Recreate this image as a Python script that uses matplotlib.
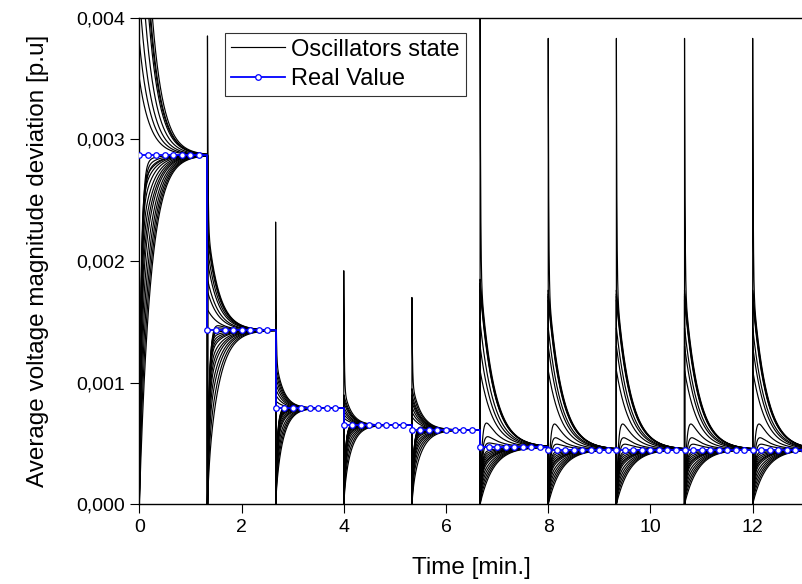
import numpy as np
import matplotlib.pyplot as plt
from matplotlib.ticker import FuncFormatter

plt.rcParams['font.family'] = ['Liberation Sans', 'DejaVu Sans']

# reference ("real value") is sampled every 1/6 min, 8 samples per step
sample_step = 1 / 6
samples_per_step = 8
t_end = 13.0
real_value = [2.87e-3, 1.43e-3, 0.79e-3, 0.65e-3, 0.61e-3,
              0.47e-3, 0.45e-3, 0.45e-3, 0.45e-3, 0.45e-3]

# oscillator states after each step
spike_peak = [12e-3, 3.85e-3, 2.32e-3, 1.92e-3, 1.70e-3,
              4.4e-3, 3.83e-3, 3.83e-3, 3.83e-3, 3.83e-3]
# level reached right after the fast transient (first entry = spiking oscillator)
upper_knee = [
    [6.5e-3, 6.0e-3, 5.8e-3, 5.5e-3, 4.8e-3, 4.2e-3, 3.8e-3, 3.5e-3],
    [2.3e-3, 2.25e-3, 2.2e-3, 2.1e-3, 2.0e-3, 1.85e-3, 1.75e-3, 1.6e-3],
    [1.2e-3, 1.15e-3, 1.1e-3, 1.05e-3, 1.0e-3, 0.95e-3, 0.9e-3, 0.85e-3],
    [0.95e-3, 0.9e-3, 0.87e-3, 0.84e-3, 0.8e-3, 0.77e-3, 0.74e-3, 0.71e-3],
    [1.0e-3, 0.95e-3, 0.9e-3, 0.87e-3, 0.84e-3, 0.8e-3, 0.76e-3, 0.72e-3],
    [1.9e-3, 1.85e-3, 1.82e-3, 1.8e-3, 1.77e-3, 1.5e-3, 1.3e-3, 1.1e-3],
    [1.8e-3, 1.76e-3, 1.73e-3, 1.71e-3, 1.68e-3, 1.45e-3, 1.3e-3, 1.1e-3],
    [1.8e-3, 1.76e-3, 1.73e-3, 1.71e-3, 1.68e-3, 1.45e-3, 1.3e-3, 1.1e-3],
    [1.8e-3, 1.76e-3, 1.73e-3, 1.71e-3, 1.68e-3, 1.45e-3, 1.3e-3, 1.1e-3],
    [1.8e-3, 1.76e-3, 1.73e-3, 1.71e-3, 1.68e-3, 1.45e-3, 1.3e-3, 1.1e-3],
]
# oscillators restarting from zero that overshoot a little
bump_knee = [
    [2.6e-3, 2.7e-3, 2.8e-3],
    [1.45e-3, 1.5e-3, 1.55e-3],
    [0.8e-3, 0.82e-3, 0.85e-3],
    [0.68e-3, 0.7e-3, 0.72e-3],
    [0.65e-3, 0.68e-3, 0.7e-3],
    [0.85e-3, 0.65e-3, 0.55e-3],
    [0.85e-3, 0.65e-3, 0.55e-3],
    [0.85e-3, 0.65e-3, 0.55e-3],
    [0.85e-3, 0.65e-3, 0.55e-3],
    [0.85e-3, 0.65e-3, 0.55e-3],
]
# oscillators restarting from zero and rising
lower_knee = [
    [0.0, 0.3e-3, 0.6e-3, 0.9e-3, 1.2e-3, 1.5e-3, 1.7e-3, 1.9e-3, 2.1e-3, 2.3e-3, 2.45e-3, 2.55e-3],
    [0.2e-3, 0.4e-3, 0.6e-3, 0.75e-3, 0.9e-3, 1.0e-3, 1.1e-3, 1.2e-3, 1.25e-3, 1.3e-3, 1.35e-3, 1.4e-3],
    [0.1e-3, 0.2e-3, 0.3e-3, 0.4e-3, 0.5e-3, 0.55e-3, 0.6e-3, 0.65e-3, 0.68e-3, 0.7e-3, 0.73e-3, 0.76e-3],
    [0.1e-3, 0.2e-3, 0.3e-3, 0.38e-3, 0.45e-3, 0.5e-3, 0.53e-3, 0.56e-3, 0.58e-3, 0.6e-3, 0.62e-3, 0.63e-3],
    [0.1e-3, 0.2e-3, 0.28e-3, 0.35e-3, 0.4e-3, 0.45e-3, 0.5e-3, 0.53e-3, 0.55e-3, 0.57e-3, 0.59e-3, 0.6e-3],
    [0.0, 0.05e-3, 0.1e-3, 0.15e-3, 0.2e-3, 0.25e-3, 0.28e-3, 0.3e-3, 0.33e-3, 0.36e-3, 0.39e-3, 0.42e-3],
    [0.0, 0.05e-3, 0.1e-3, 0.15e-3, 0.2e-3, 0.25e-3, 0.28e-3, 0.3e-3, 0.33e-3, 0.36e-3, 0.39e-3, 0.42e-3],
    [0.0, 0.05e-3, 0.1e-3, 0.15e-3, 0.2e-3, 0.25e-3, 0.28e-3, 0.3e-3, 0.33e-3, 0.36e-3, 0.39e-3, 0.42e-3],
    [0.0, 0.05e-3, 0.1e-3, 0.15e-3, 0.2e-3, 0.25e-3, 0.28e-3, 0.3e-3, 0.33e-3, 0.36e-3, 0.39e-3, 0.42e-3],
    [0.0, 0.05e-3, 0.1e-3, 0.15e-3, 0.2e-3, 0.25e-3, 0.28e-3, 0.3e-3, 0.33e-3, 0.36e-3, 0.39e-3, 0.42e-3],
]
tau_slow = [0.22, 0.22, 0.15, 0.15, 0.18, 0.26, 0.26, 0.26, 0.26, 0.26]
tau_spike = 0.01
tau_bump = 0.04
tau_rise = 0.03


def response(r, x0, knee, tf, ts, t):
    return r + (x0 - knee) * np.exp(-t / tf) + (knee - r) * np.exp(-t / ts)


n_seg = len(real_value)
t_steps = [i * samples_per_step * sample_step for i in range(n_seg)] + [t_end]

# time / state for every oscillator, concatenated over the steps
n_upper = len(upper_knee[0])
n_bump = len(bump_knee[0])
n_lower = len(lower_knee[0])
n_osc = n_upper + n_bump + n_lower
times = []
states = [[] for _ in range(n_osc)]
for s in range(n_seg):
    dur = t_steps[s + 1] - t_steps[s]
    tl = np.concatenate([[0.0], np.geomspace(1e-4, dur, 400)])
    times.append(t_steps[s] + tl)
    r = real_value[s]
    ts = tau_slow[s]
    for j in range(n_upper):
        k = upper_knee[s][j]
        x0 = spike_peak[s] if j == 0 else k
        states[j].append(response(r, x0, k, tau_spike, ts, tl))
    for j in range(n_bump):
        states[n_upper + j].append(response(r, 0.0, bump_knee[s][j], tau_bump, ts, tl))
    for j in range(n_lower):
        states[n_upper + n_bump + j].append(response(r, 0.0, lower_knee[s][j], tau_rise, ts, tl))
times = np.concatenate(times)

fig = plt.figure(figsize=(8.03, 5.84), dpi=100)
ax = fig.add_axes([0.1735, 0.1365, 0.8275, 0.8332])

for j in range(n_osc):
    ax.plot(times, np.concatenate(states[j]), color='black', lw=0.85,
            label='Oscillators state' if j == 0 else None)

# real value
t_samples = np.arange(0, int(round(t_end / sample_step)) + 1) * sample_step
rv = np.repeat(real_value, samples_per_step)[:len(t_samples)]
ax.plot(t_samples, rv, drawstyle='steps-post', color='#0000ff', lw=1.3,
        marker='o', ms=4, mfc='white', mec='#0000ff', mew=0.9,
        label='Real Value', zorder=5)

ax.set_xlim(0, 13)
ax.set_ylim(0, 0.004)
ax.set_xticks([0, 2, 4, 6, 8, 10, 12])
ax.set_yticks([0, 0.001, 0.002, 0.003, 0.004])
ax.yaxis.set_major_formatter(FuncFormatter(lambda v, p: f'{v:.3f}'.replace('.', ',')))
ax.tick_params(direction='out', length=6.5, width=0.8, labelsize=14, pad=4)
ax.spines['right'].set_visible(False)
for sp in ['left', 'bottom', 'top']:
    ax.spines[sp].set_linewidth(1.0)

ax.set_xlabel('Time [min.]', fontsize=17.5, labelpad=15)
ax.set_ylabel('Average voltage magnitude deviation [p.u]', fontsize=17.5, labelpad=19)

leg = ax.legend(loc='upper left', bbox_to_anchor=(0.129, 0.969), borderaxespad=0,
                fontsize=17, frameon=True, fancybox=False, handlelength=2.3,
                handletextpad=0.25, borderpad=0.25, labelspacing=0.3)
leg.get_frame().set_edgecolor('black')
leg.get_frame().set_linewidth(0.8)

fig.savefig('out.png', dpi=100)
